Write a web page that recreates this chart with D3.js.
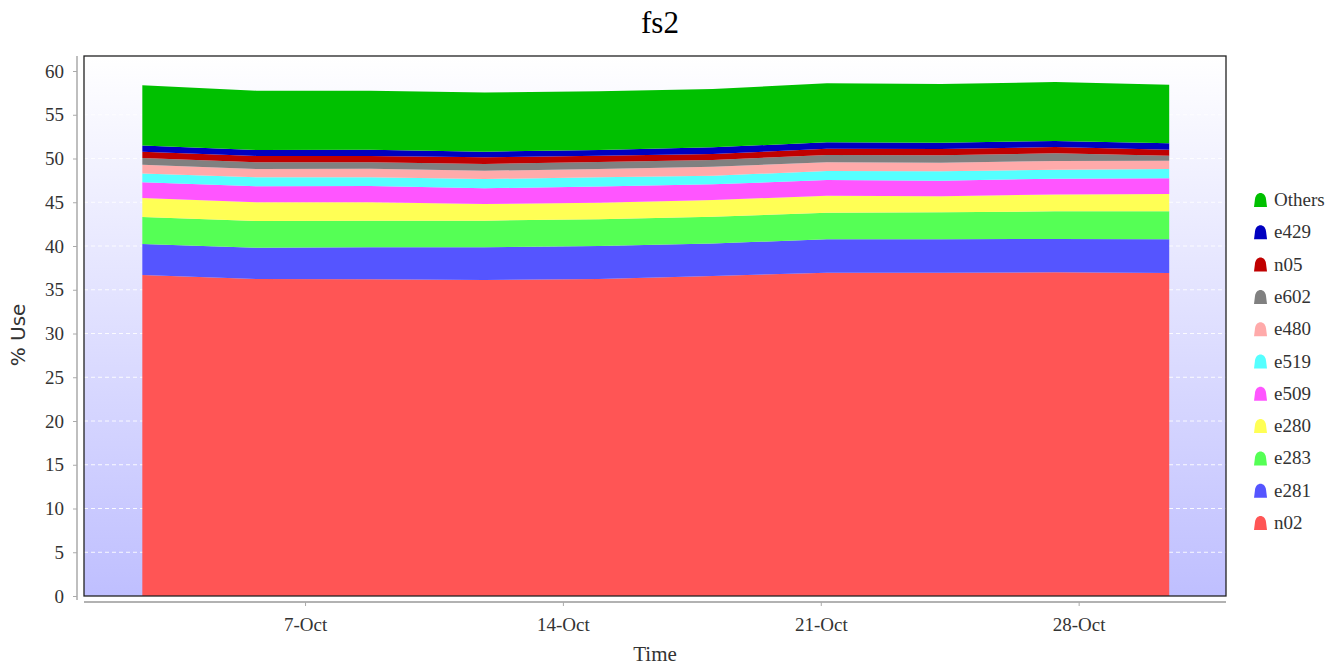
<!DOCTYPE html>
<html>
<head>
<meta charset="utf-8">
<script src="https://cdn.jsdelivr.net/npm/d3@7"></script>
<style>
  body { margin: 0; background: #fff; }
  svg { display: block; }
</style>
</head>
<body>
<svg id="chart"></svg>
<script>
// sample times (UTC)
const times = ['2023-10-02T14:00Z', '2023-10-05T16:20Z', '2023-10-08T18:40Z', '2023-10-11T21:00Z', '2023-10-14T23:20Z',
               '2023-10-18T01:40Z', '2023-10-21T04:00Z', '2023-10-24T06:20Z', '2023-10-27T08:40Z', '2023-10-30T11:00Z']

// stack order, bottom first
const seriesNames = ['n02', 'e281', 'e283', 'e280', 'e509', 'e519', 'e480', 'e602', 'n05', 'e429', 'Others']
const seriesColors = ['#ff5555', '#5555ff', '#55ff55', '#ffff55', '#ff55ff', '#55ffff', '#ffaaaa', '#808080', '#c00000', '#0000c0', '#00c000']

const n02    = [36.69, 36.23, 36.20, 36.11, 36.23, 36.57, 36.95, 36.95, 36.99, 36.91]
const e281   = [3.54, 3.58, 3.65, 3.74, 3.77, 3.73, 3.81, 3.81, 3.81, 3.85]
const e283   = [3.08, 3.05, 3.05, 3.05, 3.05, 3.05, 3.05, 3.09, 3.16, 3.20]
const e280   = [2.18, 2.13, 2.10, 1.90, 1.90, 1.91, 1.94, 1.83, 1.94, 1.98]
const e509   = [1.79, 1.83, 1.86, 1.80, 1.85, 1.79, 1.79, 1.79, 1.80, 1.79]
const e519   = [1.02, 1.03, 0.99, 1.06, 1.05, 0.99, 1.03, 1.06, 1.02, 1.07]
const e480   = [1.00, 0.95, 0.99, 0.94, 0.95, 1.03, 0.99, 0.99, 0.99, 0.95]
const e602   = [0.76, 0.76, 0.72, 0.77, 0.80, 0.76, 0.84, 0.84, 0.88, 0.57]
const n05    = [0.72, 0.73, 0.73, 0.76, 0.72, 0.68, 0.72, 0.73, 0.72, 0.68]
const e429   = [0.72, 0.68, 0.71, 0.65, 0.65, 0.77, 0.73, 0.71, 0.69, 0.73]
const others = [6.87, 6.78, 6.75, 6.75, 6.71, 6.66, 6.74, 6.71, 6.74, 6.71]

const xDomain = ['2023-10-01T00:00Z', '2023-11-01T00:00Z']
const xTicks = ['2023-10-07T00:00Z', '2023-10-14T00:00Z', '2023-10-21T00:00Z', '2023-10-28T00:00Z']
const xTickLabels = ['7-Oct', '14-Oct', '21-Oct', '28-Oct']
const yTicks = [0, 5, 10, 15, 20, 25, 30, 35, 40, 45, 50, 55, 60]

const seriesValues = [n02, e281, e283, e280, e509, e519, e480, e602, n05, e429, others]

const W = 1343, H = 668
const plot = {left: 84, right: 1226, top: 56, bottom: 596}
const serif = '"Liberation Serif", "Times New Roman", serif'

const svg = d3.select('#chart').attr('width', W).attr('height', H)

// build rows for the stack
const rows = times.map((t, i) => {
    const row = {date: new Date(t)}
    seriesNames.forEach((name, j) => { row[name] = seriesValues[j][i] })
    return row
})

const x = d3.scaleUtc()
    .domain(xDomain.map(d => new Date(d)))
    .range([plot.left, plot.right])

const y = d3.scaleLinear()
    .domain([0, 60])
    .range([plot.bottom, 71])

// background gradient
const defs = svg.append('defs')
const grad = defs.append('linearGradient')
    .attr('id', 'bg').attr('x1', 0).attr('y1', 0).attr('x2', 0).attr('y2', 1)
grad.append('stop').attr('offset', '0%').attr('stop-color', '#ffffff')
grad.append('stop').attr('offset', '100%').attr('stop-color', '#bfbfff')

svg.append('rect')
    .attr('x', plot.left).attr('y', plot.top)
    .attr('width', plot.right - plot.left).attr('height', plot.bottom - plot.top)
    .attr('fill', 'url(#bg)')

// grid lines
svg.append('g')
    .selectAll('line')
    .data(yTicks.filter(d => d > 0))
    .join('line')
    .attr('x1', plot.left).attr('x2', plot.right)
    .attr('y1', d => y(d)).attr('y2', d => y(d))
    .attr('stroke', '#ffffff')
    .attr('stroke-width', 1)
    .attr('stroke-dasharray', '4,3')
    .attr('opacity', 0.9)

// stacked areas
const stack = d3.stack().keys(seriesNames)
const layers = stack(rows)

const area = d3.area()
    .x(d => x(d.data.date))
    .y0(d => y(d[0]))
    .y1(d => y(d[1]))

svg.append('g')
    .selectAll('path')
    .data(layers)
    .join('path')
    .attr('fill', (d, i) => seriesColors[i])
    .attr('d', area)

// plot frame
svg.append('rect')
    .attr('x', plot.left).attr('y', plot.top)
    .attr('width', plot.right - plot.left).attr('height', plot.bottom - plot.top)
    .attr('fill', 'none')
    .attr('stroke', '#222')
    .attr('stroke-width', 1.3)

// y axis
const yAxis = svg.append('g')
    .attr('transform', 'translate(77,0)')
    .call(d3.axisLeft(y).tickValues(yTicks).tickSize(4).tickPadding(9))
yAxis.select('.domain').attr('d', 'M0,' + plot.top + 'V600').attr('stroke', '#aaa').attr('stroke-width', 1.5)
yAxis.selectAll('.tick line').attr('stroke', '#aaa')
yAxis.selectAll('.tick text')
    .attr('font-family', serif).attr('font-size', '19px').attr('fill', '#333')

// x axis
const xAxis = svg.append('g')
    .attr('transform', 'translate(0,602)')
    .call(d3.axisBottom(x)
        .tickValues(xTicks.map(d => new Date(d)))
        .tickFormat((d, i) => xTickLabels[i])
        .tickSize(4).tickPadding(12))
xAxis.select('.domain').attr('d', 'M' + plot.left + ',0H' + plot.right).attr('stroke', '#999').attr('stroke-width', 1.5)
xAxis.selectAll('.tick line').attr('stroke', '#aaa')
xAxis.selectAll('.tick text')
    .attr('font-family', serif).attr('font-size', '19px').attr('fill', '#333')

// titles
svg.append('text')
    .attr('x', 660).attr('y', 33)
    .attr('text-anchor', 'middle')
    .attr('font-family', serif).attr('font-size', '31px').attr('fill', '#000')
    .text('fs2')

svg.append('text')
    .attr('x', (plot.left + plot.right) / 2).attr('y', 661)
    .attr('text-anchor', 'middle')
    .attr('font-family', serif).attr('font-size', '21px').attr('fill', '#333')
    .text('Time')

svg.append('text')
    .attr('transform', 'translate(25,335) rotate(-90)')
    .attr('text-anchor', 'middle')
    .attr('font-family', '"DejaVu Sans", sans-serif').attr('font-size', '20px').attr('fill', '#333')
    .text('% Use')

// legend, top entry is the top layer
const legendItems = seriesNames.map((n, i) => ({name: n, color: seriesColors[i]})).reverse()
const legend = svg.append('g').attr('transform', 'translate(1254,199)')
const item = legend.selectAll('g')
    .data(legendItems)
    .join('g')
    .attr('transform', (d, i) => 'translate(0,' + (i * 32.3) + ')')

// bell-shaped marker
item.append('path')
    .attr('d', 'M0,8 L1,0 C2,-8 11,-8 12,0 L13,8 Z')
    .attr('fill', d => d.color)

item.append('text')
    .attr('x', 20).attr('y', 7)
    .attr('font-family', serif).attr('font-size', '19px').attr('fill', '#333')
    .text(d => d.name)
</script>
</body>
</html>
